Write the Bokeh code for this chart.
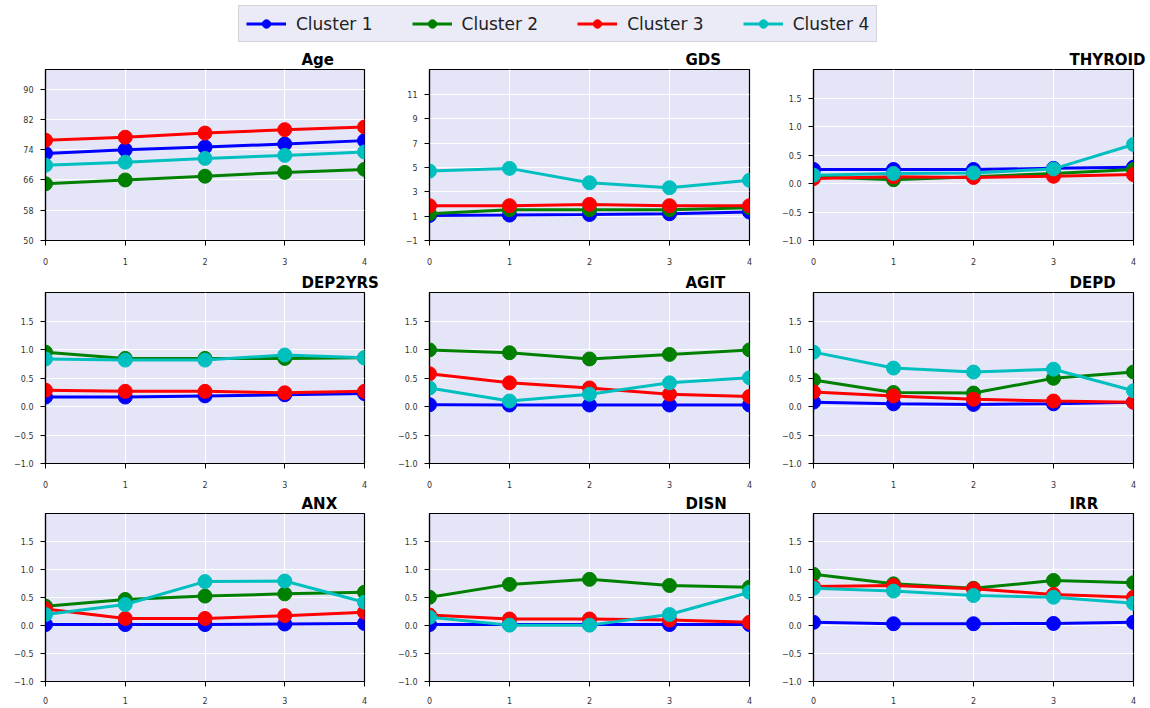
from bokeh.plotting import figure
from bokeh.layouts import gridplot, column
from bokeh.models import Range1d, FixedTicker, Legend, LegendItem
from bokeh.embed import file_html
from bokeh.resources import INLINE

steps = [0, 1, 2, 3, 4]
cluster_names = ["Cluster 1", "Cluster 2", "Cluster 3", "Cluster 4"]
cluster_colors = ["#0000FF", "#008000", "#FF0000", "#00BFBF"]

# values per panel: [cluster1, cluster2, cluster3, cluster4]
age = [[73.0, 74.0, 74.7, 75.5, 76.4], [65.0, 66.0, 67.0, 68.0, 68.8],
       [76.5, 77.3, 78.4, 79.3, 80.0], [69.9, 70.7, 71.7, 72.5, 73.4]]
gds = [[1.06, 1.09, 1.14, 1.2, 1.34], [1.2, 1.53, 1.53, 1.53, 1.69],
       [1.86, 1.86, 1.97, 1.86, 1.86], [4.71, 4.93, 3.75, 3.34, 3.95]]
thyroid = [[0.25, 0.25, 0.25, 0.27, 0.29], [0.12, 0.07, 0.12, 0.18, 0.25],
           [0.09, 0.12, 0.11, 0.13, 0.16], [0.15, 0.18, 0.19, 0.26, 0.69]]
dep2yrs = [[0.17, 0.17, 0.19, 0.21, 0.23], [0.96, 0.85, 0.85, 0.85, 0.86],
           [0.29, 0.27, 0.27, 0.245, 0.27], [0.84, 0.82, 0.82, 0.91, 0.86]]
agit = [[0.035, 0.03, 0.03, 0.03, 0.03], [1.0, 0.95, 0.84, 0.92, 1.0],
        [0.58, 0.42, 0.33, 0.22, 0.18], [0.33, 0.1, 0.22, 0.42, 0.51]]
depd = [[0.08, 0.05, 0.04, 0.05, 0.08], [0.47, 0.25, 0.24, 0.5, 0.61],
        [0.26, 0.19, 0.13, 0.1, 0.08], [0.96, 0.68, 0.61, 0.66, 0.28]]
anx = [[0.02, 0.02, 0.02, 0.03, 0.04], [0.35, 0.47, 0.53, 0.57, 0.6],
       [0.3, 0.13, 0.13, 0.18, 0.24], [0.2, 0.38, 0.79, 0.8, 0.42]]
disn = [[0.02, 0.02, 0.02, 0.02, 0.02], [0.51, 0.74, 0.83, 0.72, 0.69],
        [0.19, 0.12, 0.12, 0.1, 0.06], [0.15, 0.01, 0.01, 0.2, 0.6]]
irr = [[0.06, 0.035, 0.035, 0.04, 0.06], [0.92, 0.75, 0.67, 0.81, 0.77],
       [0.7, 0.72, 0.66, 0.56, 0.51], [0.67, 0.62, 0.54, 0.51, 0.4]]

panel_titles = ["Age", "GDS", "THYROID", "DEP2YRS", "AGIT", "DEPD", "ANX", "DISN", "IRR"]
panel_data = [age, gds, thyroid, dep2yrs, agit, depd, anx, disn, irr]

age_ticks = [50, 58, 66, 74, 82, 90]
gds_ticks = [-1, 1, 3, 5, 7, 9, 11]
prop_ticks = [-1.0, -0.5, 0.0, 0.5, 1.0, 1.5]
panel_yrange = [(50, 95.2), (-1, 13.06)] + [(-1, 2.01)] * 7
panel_yticks = [age_ticks, gds_ticks] + [prop_ticks] * 7


def fmt(t):
    if isinstance(t, float):
        s = "%.1f" % t
    else:
        s = str(t)
    return s.replace("-", "\u2212")


col_w = [390, 382, 378]
col_left = [45, 39, 41]
col_right = [26, 23, 17]
row_h = [223, 220, 216]
row_top = [22, 22, 23]
row_bottom = [30, 27, 22]
row_xstand = [12, 12, 10]

FONT = "DejaVu Sans"

figs = []
for idx in range(9):
    r, c = divmod(idx, 3)
    y0, y1 = panel_yrange[idx]
    p = figure(width=col_w[c], height=row_h[r], x_range=Range1d(0, 4), y_range=Range1d(y0, y1),
               output_backend="svg", toolbar_location=None, title=panel_titles[idx],
               min_border_left=col_left[c], min_border_right=col_right[c],
               min_border_top=row_top[r], min_border_bottom=row_bottom[r],
               background_fill_color="#E5E5F8", border_fill_color="white",
               outline_line_color="black", outline_line_width=1.2)
    p.title.align = "left"
    p.title.offset = 256
    p.title.text_font = FONT
    p.title.text_font_size = "15px"
    p.title.text_font_style = "bold"
    p.title.text_color = "black"
    p.title.standoff = 1

    p.xaxis.ticker = FixedTicker(ticks=steps)
    p.yaxis.ticker = FixedTicker(ticks=panel_yticks[idx])
    p.yaxis.major_label_overrides = {t: fmt(t) for t in panel_yticks[idx]}
    p.xaxis.major_label_overrides = {t: str(t) for t in steps}
    for ax in (p.xaxis, p.yaxis):
        ax.axis_line_color = "black"
        ax.axis_line_width = 1.2
        ax.major_tick_line_color = "black"
        ax.major_tick_line_width = 1
        ax.major_tick_out = 5
        ax.major_tick_in = 0
        ax.minor_tick_line_color = None
        ax.major_label_text_font = FONT
        ax.major_label_text_font_size = "8px"
        ax.major_label_text_color = "#333333"
    p.xaxis.major_label_standoff = row_xstand[r]
    p.yaxis.major_label_standoff = 7
    p.xgrid.grid_line_color = "white"
    p.ygrid.grid_line_color = "white"
    p.xgrid.grid_line_width = 1.2
    p.ygrid.grid_line_width = 1.2

    for k in range(4):
        p.line(steps, panel_data[idx][k], line_color=cluster_colors[k], line_width=3)
        p.scatter(steps, panel_data[idx][k], size=14, fill_color=cluster_colors[k],
                  line_color=cluster_colors[k])
    figs.append(p)

# legend strip (glyphs placed outside the visible range; only the legend shows)
lf = figure(width=1150, height=47, x_range=Range1d(0, 1), y_range=Range1d(0, 1),
            output_backend="svg", toolbar_location=None, min_border=0,
            x_axis_location=None, y_axis_location=None, outline_line_color=None)
lf.grid.visible = False
items = []
for k in range(4):
    lr = lf.line([-5, -4], [-5, -5], line_color=cluster_colors[k], line_width=3)
    sr = lf.scatter([-5], [-5], size=10, fill_color=cluster_colors[k], line_color=cluster_colors[k])
    items.append(LegendItem(label=cluster_names[k], renderers=[lr, sr]))
leg = Legend(items=items, orientation="horizontal", location=(238, 5),
             glyph_width=40, glyph_height=21, label_height=21, label_standoff=10,
             spacing=39, padding=7, margin=0,
             label_text_font=FONT, label_text_font_size="17px", label_text_color="#222222",
             border_line_color="#BBBBBB", border_line_width=1,
             background_fill_color="#EBEBF8", background_fill_alpha=1.0)
lf.add_layout(leg)

grid = gridplot([figs[0:3], figs[3:6], figs[6:9]], toolbar_location=None)
layout = column(lf, grid)

open("out.html", "w").write(file_html(layout, INLINE))
